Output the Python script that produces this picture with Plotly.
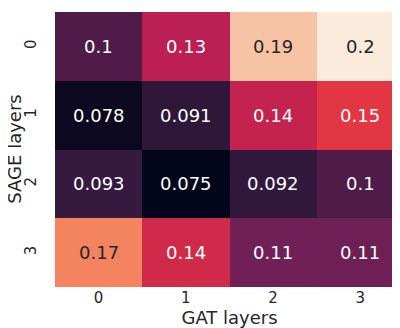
import plotly.graph_objects as go

# GAT layers (columns) x SAGE layers (rows)
gat_layers = ["0", "1", "2", "3"]
sage_layers = ["0", "1", "2", "3"]
scores = [
    [0.101, 0.134, 0.188, 0.201],
    [0.078, 0.091, 0.137, 0.148],
    [0.093, 0.075, 0.092, 0.101],
    [0.169, 0.141, 0.111, 0.110],
]
labels = [
    ["0.1", "0.13", "0.19", "0.2"],
    ["0.078", "0.091", "0.14", "0.15"],
    ["0.093", "0.075", "0.092", "0.1"],
    ["0.17", "0.14", "0.11", "0.11"],
]

# approximation of seaborn's "rocket"
rocket = [
    [0.0, "#03051a"],
    [1 / 7, "#35193e"],
    [2 / 7, "#701f57"],
    [3 / 7, "#ad1759"],
    [4 / 7, "#e13342"],
    [5 / 7, "#f37651"],
    [6 / 7, "#f6b48f"],
    [1.0, "#faebdd"],
]

zmin = min(min(r) for r in scores)
zmax = max(max(r) for r in scores)

fig = go.Figure(go.Heatmap(
    z=scores, x=gat_layers, y=sage_layers,
    colorscale=rocket, zmin=zmin, zmax=zmax,
    showscale=False, xgap=0, ygap=0, hoverinfo="skip",
))

for i, row in enumerate(labels):
    for j, txt in enumerate(row):
        frac = (scores[i][j] - zmin) / (zmax - zmin)
        fig.add_annotation(
            x=gat_layers[j], y=sage_layers[i], text=txt, showarrow=False,
            font=dict(size=18, color="#262626" if frac > 0.7 else "white"),
        )

# y-axis title placed by hand so it sits clear of the rotated tick labels
fig.add_annotation(
    text="SAGE layers", xref="paper", yref="paper", x=-0.117, y=0.5,
    xanchor="center", yanchor="middle", textangle=-90, showarrow=False,
    font=dict(size=18),
)

fig.update_layout(
    width=400, height=328,
    margin=dict(l=47, r=4, t=4, b=49),
    paper_bgcolor="white", plot_bgcolor="white",
    font=dict(family="DejaVu Sans", color="#262626"),
    xaxis=dict(
        title=dict(text="GAT layers", font=dict(size=18), standoff=0),
        tickfont=dict(size=15), ticks="", showgrid=False, zeroline=False,
        automargin=False,
    ),
    yaxis=dict(
        tickfont=dict(size=15), tickangle=-90, autorange="reversed",
        ticks="outside", ticklen=12, tickcolor="rgba(0,0,0,0)",
        showgrid=False, zeroline=False, automargin=False,
    ),
)

fig.write_html("out.html")
